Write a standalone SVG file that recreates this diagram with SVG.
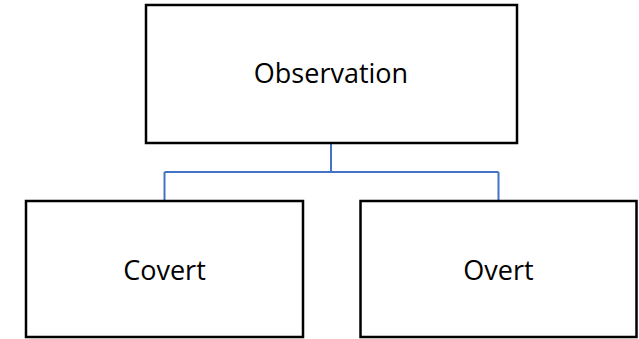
<svg xmlns="http://www.w3.org/2000/svg" width="639" height="339" viewBox="0 0 639 339">
<style>
.box{fill:#fff;stroke:#000;stroke-width:2.5}
.lbl{font-family:"Open Sans","Noto Sans",sans-serif;font-size:27px;fill:#000;text-anchor:middle}
.conn{fill:none;stroke:#4472C4;stroke-width:2}
</style>
<rect width="639" height="339" fill="#fff"/>
<g id="connectors">
<path class="conn" d="M331,144 V172 M164.5,172 H498.5 M164.5,172 V200 M498.5,172 V200"/>
</g>
<g id="observation">
<rect class="box" x="146" y="5" width="371" height="138"/>
<text class="lbl" x="331" y="83">Observation</text>
</g>
<g id="covert">
<rect class="box" x="26" y="201" width="277" height="136"/>
<text class="lbl" x="164.5" y="280">Covert</text>
</g>
<g id="overt">
<rect class="box" x="360.5" y="201" width="276" height="136"/>
<text class="lbl" x="498.5" y="280">Overt</text>
</g>
</svg>
